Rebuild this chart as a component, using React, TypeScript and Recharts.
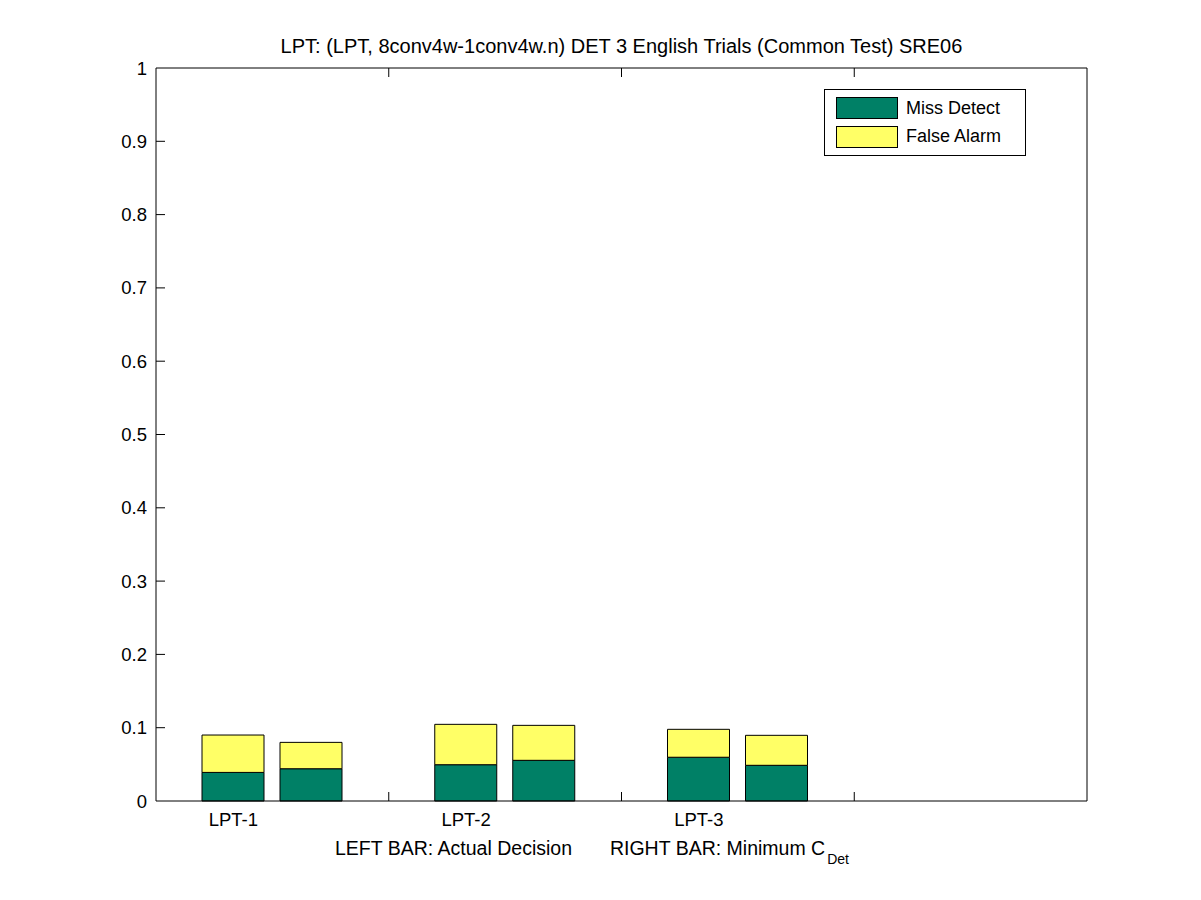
import React from "react";
import { BarChart, Bar, XAxis, YAxis, Legend } from "recharts";

const FONT = '"Liberation Sans", Arial, Helvetica, sans-serif';
const GREEN = "#008066";
const YELLOW = "#ffff66";

// systems (4th slot is left empty like the original plot)
const systems = ["LPT-1", "LPT-2", "LPT-3", ""];
// left bar: actual decision
const actualMiss = [0.039, 0.0495, 0.0597, null];
const actualFA = [0.051, 0.0551, 0.0381, null];
// right bar: minimum C_Det
const minMiss = [0.044, 0.0555, 0.0487, null];
const minFA = [0.036, 0.0477, 0.0409, null];

const yTicks = [0, 0.1, 0.2, 0.3, 0.4, 0.5, 0.6, 0.7, 0.8, 0.9, 1];
const legendOrder = ["Miss Detect", "False Alarm"];

const BAR_SIZE = 62;
const BAR_GAP = 16;
const TICK = 9;

const data = systems.map((name, i) => ({
  name,
  actMiss: actualMiss[i],
  actFA: actualFA[i],
  minMiss: minMiss[i],
  minFA: minFA[i],
}));

// bottom tick: label under the left bar + inward tick at the group boundary
function BottomTick(props: any) {
  const { x, y, payload, index } = props;
  const half = payload && payload.offset ? payload.offset : 116.4;
  const labelX = x - (BAR_GAP / 2 + BAR_SIZE / 2);
  return (
    <g>
      {index < systems.length - 1 && (
        <line x1={x + half} x2={x + half} y1={y} y2={y - TICK} stroke="#000" strokeWidth={1} />
      )}
      <text x={labelX} y={y + 25} textAnchor="middle" fontSize={18.5} fontFamily={FONT} fill="#000">
        {payload.value}
      </text>
    </g>
  );
}

function TopTick(props: any) {
  const { x, y, payload, index } = props;
  const half = payload && payload.offset ? payload.offset : 116.4;
  if (index >= systems.length - 1) return <g />;
  return <line x1={x + half} x2={x + half} y1={y} y2={y + TICK} stroke="#000" strokeWidth={1} />;
}

function LeftTick(props: any) {
  const { x, y, payload } = props;
  const isEdge = payload.value === 0 || payload.value === 1;
  return (
    <g>
      {!isEdge && <line x1={x} x2={x + TICK} y1={y} y2={y} stroke="#000" strokeWidth={1} />}
      <text x={x - 9} y={y} dy={6.5} textAnchor="end" fontSize={18.5} fontFamily={FONT} fill="#000">
        {String(payload.value)}
      </text>
    </g>
  );
}

function RightTick(props: any) {
  const { x, y, payload } = props;
  if (payload.value === 0 || payload.value === 1) return <g />;
  return <line x1={x - TICK} x2={x} y1={y} y2={y} stroke="#000" strokeWidth={1} />;
}

function LegendBox(props: any) {
  const items = (props.payload || [])
    .filter((p: any) => p.type !== "none")
    .sort((a: any, b: any) => legendOrder.indexOf(a.value) - legendOrder.indexOf(b.value));
  return (
    <div
      style={{
        border: "1px solid #000",
        background: "#fff",
        width: 202,
        height: 67,
        boxSizing: "border-box",
        padding: "7px 0 0 11px",
        fontFamily: FONT,
        fontSize: 18,
      }}
    >
      {items.map((p: any, i: number) => (
        <div key={i} style={{ display: "flex", alignItems: "center", height: 22, marginBottom: 6.5 }}>
          <span
            style={{
              display: "inline-block",
              width: 62,
              height: 22,
              boxSizing: "border-box",
              border: "1px solid #000",
              background: p.color,
              marginRight: 8,
            }}
          />
          <span>{p.value}</span>
        </div>
      ))}
    </div>
  );
}

export default function App() {
  return (
    <div style={{ position: "absolute", left: 0, top: 0, width: 1201, height: 900, background: "#fff" }}>
      <div
        style={{
          position: "absolute",
          left: 156,
          width: 931,
          top: 36,
          textAlign: "center",
          fontFamily: FONT,
          fontSize: 20,
          lineHeight: "20px",
          whiteSpace: "pre",
        }}
      >
        LPT: (LPT, 8conv4w-1conv4w.n) DET 3 English Trials (Common Test) SRE06
      </div>
      <BarChart
        width={1201}
        height={900}
        data={data}
        margin={{ top: 67, right: 113, bottom: 69, left: 96 }}
        barSize={BAR_SIZE}
        barGap={BAR_GAP}
      >
        <XAxis
          dataKey="name"
          interval={0}
          height={30}
          tickLine={false}
          tickSize={0}
          tickMargin={0}
          axisLine={{ stroke: "#000" }}
          tick={<BottomTick />}
        />
        <XAxis
          xAxisId="top"
          dataKey="name"
          orientation="top"
          interval={0}
          height={1}
          tickLine={false}
          tickSize={0}
          tickMargin={0}
          axisLine={{ stroke: "#000" }}
          tick={<TopTick />}
        />
        <YAxis
          domain={[0, 1]}
          ticks={yTicks}
          interval={0}
          width={60}
          tickLine={false}
          tickSize={0}
          tickMargin={0}
          axisLine={{ stroke: "#000" }}
          tick={<LeftTick />}
        />
        <YAxis
          yAxisId="r"
          orientation="right"
          domain={[0, 1]}
          ticks={yTicks}
          interval={0}
          width={1}
          tickLine={false}
          tickSize={0}
          tickMargin={0}
          axisLine={{ stroke: "#000" }}
          tick={<RightTick />}
        />
        <Legend
          verticalAlign="middle"
          align="center"
          layout="vertical"
          content={<LegendBox />}
          wrapperStyle={{ position: "absolute", left: 824, top: 89, width: 202 }}
        />
        <Bar dataKey="actMiss" stackId="act" name="Miss Detect" fill={GREEN} stroke="#000" strokeWidth={1} isAnimationActive={false} />
        <Bar dataKey="actFA" stackId="act" name="False Alarm" fill={YELLOW} stroke="#000" strokeWidth={1} isAnimationActive={false} />
        <Bar dataKey="minMiss" stackId="min" name="Miss Detect" legendType="none" fill={GREEN} stroke="#000" strokeWidth={1} isAnimationActive={false} />
        <Bar dataKey="minFA" stackId="min" name="False Alarm" legendType="none" fill={YELLOW} stroke="#000" strokeWidth={1} isAnimationActive={false} />
      </BarChart>
      <div
        style={{
          position: "absolute",
          left: 335,
          top: 838,
          fontFamily: FONT,
          fontSize: 19.5,
          lineHeight: "20px",
          whiteSpace: "pre",
        }}
      >
        {"LEFT BAR: Actual Decision       RIGHT BAR: Minimum C"}
        <sub style={{ fontSize: 14, verticalAlign: "-9px", marginLeft: 2 }}>Det</sub>
      </div>
    </div>
  );
}
